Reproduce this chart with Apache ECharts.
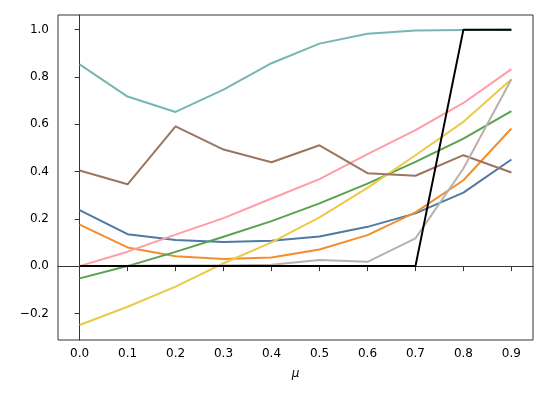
<!DOCTYPE html>
<html>
<head>
<meta charset="utf-8">
<script src="https://cdn.jsdelivr.net/npm/echarts@6/dist/echarts.min.js"></script>
<style>
  html, body { margin: 0; padding: 0; background: #fff; }
  #chart { width: 548px; height: 399px; }
</style>
</head>
<body>
<div id="chart"></div>
<script>
// x values (mu)
var mu = [0.0, 0.1, 0.2, 0.3, 0.4, 0.5, 0.6, 0.7, 0.8, 0.9];

// tick positions
var xTicks = [0.0, 0.1, 0.2, 0.3, 0.4, 0.5, 0.6, 0.7, 0.8, 0.9];
var yTicks = [-0.2, 0.0, 0.2, 0.4, 0.6, 0.8, 1.0];

// series values
var blueVals   = [0.237, 0.135, 0.110, 0.102, 0.107, 0.125, 0.166, 0.223, 0.311, 0.451];
var orangeVals = [0.175, 0.079, 0.042, 0.030, 0.036, 0.070, 0.131, 0.227, 0.363, 0.582];
var greenVals  = [-0.052, 0.000, 0.060, 0.124, 0.190, 0.265, 0.349, 0.441, 0.539, 0.655];
var yellowVals = [-0.249, -0.172, -0.087, 0.012, 0.100, 0.206, 0.331, 0.469, 0.610, 0.790];
var pinkVals   = [0.000, 0.061, 0.133, 0.203, 0.286, 0.368, 0.474, 0.575, 0.690, 0.833];
var brownVals  = [0.404, 0.346, 0.591, 0.493, 0.439, 0.511, 0.393, 0.382, 0.469, 0.396];
var grayVals   = [0.000, 0.001, 0.003, 0.003, 0.006, 0.026, 0.018, 0.117, 0.413, 0.790];
var tealVals   = [0.853, 0.717, 0.652, 0.746, 0.858, 0.941, 0.983, 0.996, 0.999, 1.000];
var blackVals  = [0, 0, 0, 0, 0, 0, 0, 0, 1, 1];

var seriesDefs = [
  { name: "blue",   data: blueVals,   color: "#4e79a7" },
  { name: "orange", data: orangeVals, color: "#f28e2b" },
  { name: "green",  data: greenVals,  color: "#59a14f" },
  { name: "yellow", data: yellowVals, color: "#edc948" },
  { name: "pink",   data: pinkVals,   color: "#ff9da7" },
  { name: "brown",  data: brownVals,  color: "#9c755f" },
  { name: "gray",   data: grayVals,   color: "#bab0ac" },
  { name: "teal",   data: tealVals,   color: "#76b7b2" },
  { name: "black",  data: blackVals,  color: "#000000" }
];

function pairs(ys) {
  return mu.map(function (x, i) { return [x, ys[i]]; });
}

function fmt(v) {
  return v.toFixed(1).replace("-", "\u2212");
}

var chart = echarts.init(document.getElementById("chart"));
var axisCol = "#333";
var option = {
  animation: false,
  grid: {
    left: 58, right: 15, top: 15, bottom: 59,
    show: true, borderColor: axisCol, borderWidth: 1
  },
  xAxis: {
    type: "value",
    min: -0.045, max: 0.945,
    name: "\u03bc",
    nameLocation: "middle",
    nameGap: 28,
    nameTextStyle: { fontFamily: "DejaVu Sans", fontSize: 12, fontStyle: "italic", color: "#000" },
    axisLine: { lineStyle: { color: axisCol, width: 1 } },
    axisTick: { length: 5, customValues: xTicks, lineStyle: { color: axisCol } },
    axisLabel: {
      customValues: xTicks,
      margin: 8, fontFamily: "DejaVu Sans", fontSize: 12, color: "#000",
      formatter: fmt
    },
    splitLine: { show: false }
  },
  yAxis: {
    type: "value",
    min: -0.3126, max: 1.062,
    axisLine: { show: true, lineStyle: { color: axisCol, width: 1 } },
    axisTick: { show: true, length: 5, customValues: yTicks, lineStyle: { color: axisCol } },
    axisLabel: {
      customValues: yTicks,
      margin: 9, fontFamily: "DejaVu Sans", fontSize: 12, color: "#000",
      formatter: fmt
    },
    splitLine: { show: false }
  },
  series: seriesDefs.map(function (s) {
    return {
      name: s.name,
      type: "line",
      data: pairs(s.data),
      showSymbol: false,
      symbol: "none",
      lineStyle: { color: s.color, width: 2 },
      itemStyle: { color: s.color }
    };
  })
};
chart.setOption(option);
</script>
</body>
</html>
